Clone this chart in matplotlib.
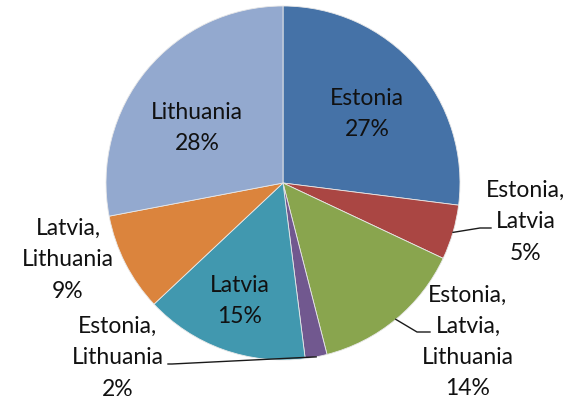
import matplotlib
matplotlib.use("Agg")
import matplotlib.pyplot as plt
import numpy as np

labels = ["Estonia", "Estonia,\nLatvia", "Estonia,\nLatvia,\nLithuania",
          "Estonia,\nLithuania", "Latvia", "Latvia,\nLithuania", "Lithuania"]
values = [27, 5, 14, 2, 15, 9, 28]
colors = ["#4572A7", "#AA4643", "#89A54E", "#71588F", "#4198AF", "#DB843D", "#93A9CF"]

W, H = 575, 403
fig = plt.figure(figsize=(W / 100, H / 100), dpi=100)
ax = fig.add_axes([0, 0, 1, 1])

cx, cy, r = 283, H - 183, 177
wedges, _ = ax.pie(values, colors=colors, startangle=90, counterclock=False,
                   center=(cx, cy), radius=r, frame=True,
                   wedgeprops=dict(linewidth=0.6, edgecolor="#e8e8e8"))
ax.set_xlim(0, W)
ax.set_ylim(0, H)
ax.set_aspect("equal")
ax.axis("off")

font = dict(family=["Lato", "DejaVu Sans"], fontsize=16.5, color="#111111",
            ha="center", va="center", linespacing=1.6)

def pct(v):
    return f"{v}%"

# label positions in pixel coords (x, y from top)
pos = [(367, 114), (526, 222), (468, 342), (118, 358), (240, 301), (68, 260), (197, 128)]
for lab, v, (px, py) in zip(labels, values, pos):
    ax.text(px, H - py, f"{lab}\n{pct(v)}", **font)

def edge_point(i):
    w = wedges[i]
    a = np.deg2rad((w.theta1 + w.theta2) / 2)
    return cx + r * np.cos(a), cy + r * np.sin(a)

# leader lines
lines = {
    1: [(480, 228), (491, 228)],
    2: [(417, 332), (430, 332)],
    3: [(172, 364), (168, 364)],
}
for i, pts in lines.items():
    x0, y0 = edge_point(i)
    xs = [x0] + [p[0] for p in pts]
    ys = [y0] + [H - p[1] for p in pts]
    ax.plot(xs, ys, color="#1a1a1a", lw=1.0)

fig.savefig("out.png", dpi=100)
